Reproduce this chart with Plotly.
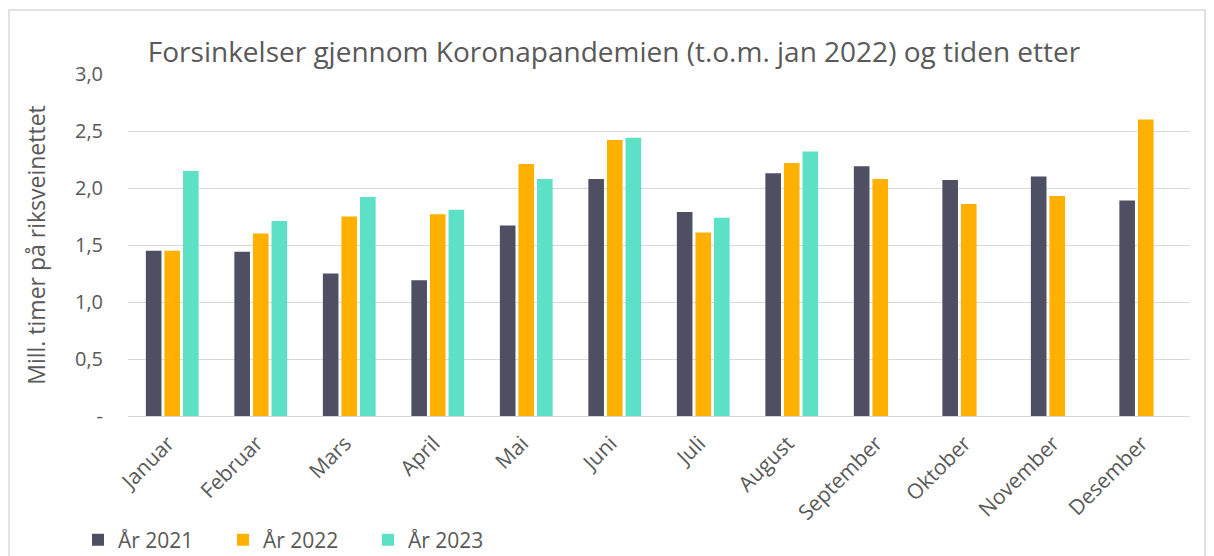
import plotly.graph_objects as go

months = ["Januar", "Februar", "Mars", "April", "Mai", "Juni", "Juli",
          "August", "September", "Oktober", "November", "Desember"]
y2021 = [1.45, 1.44, 1.25, 1.19, 1.67, 2.08, 1.79, 2.13, 2.19, 2.07, 2.10, 1.89]
y2022 = [1.45, 1.60, 1.75, 1.77, 2.21, 2.42, 1.61, 2.22, 2.08, 1.86, 1.93, 2.60]
y2023 = [2.15, 1.71, 1.92, 1.81, 2.08, 2.44, 1.74, 2.32, None, None, None, None]
tick_vals = [0, 0.5, 1.0, 1.5, 2.0, 2.5, 3.0]
tick_text = ["-", "0,5", "1,0", "1,5", "2,0", "2,5", "3,0"]

series = [("År 2021", y2021, "#4E4F63"),
          ("År 2022", y2022, "#FFB000"),
          ("År 2023", y2023, "#5CE1C6")]

fig = go.Figure()
for name, vals, col in series:
    fig.add_trace(go.Bar(x=months, y=vals, name=name, marker_color=col,
                         marker_line_width=0))

txt = "#595959"
W, H = 1206, 548          # page body has an 8px margin
OFF = 8
L, R, T, B = 120, 24, 66, 140
PW, PH = W - L - R, H - T - B
bottom = H - B

def px(X):
    return (X - OFF - L) / PW

def py(Y):
    return (bottom - (Y - OFF)) / PH

fig.update_layout(
    width=W, height=H,
    paper_bgcolor="white", plot_bgcolor="white",
    margin=dict(l=L, r=R, t=T, b=B, autoexpand=False),
    font=dict(family="Open Sans", color=txt, size=16),
    barmode="group", bargap=0.37, bargroupgap=0.16,
    title=dict(text="Forsinkelser gjennom Koronapandemien (t.o.m. jan 2022) og tiden etter",
               x=(614 - OFF) / W, xanchor="center", y=1 - (52 - OFF) / H, yanchor="middle",
               font=dict(size=28, color=txt)),
    legend=dict(orientation="h", x=px(78), y=py(540),
                xanchor="left", yanchor="middle",
                font=dict(size=21, color=txt), entrywidth=100, itemwidth=30,
                traceorder="normal"),
)
fig.update_yaxes(range=[0, 3.0], tickvals=tick_vals, ticktext=tick_text,
                 showgrid=True, gridcolor="#D9D9D9", gridwidth=1,
                 zeroline=True, zerolinecolor="#D9D9D9", zerolinewidth=1,
                 tickfont=dict(size=20, color=txt), ticks="", ticklabelstandoff=24,
                 automargin=False,
                 title=dict(text="Mill. timer på riksveinettet", font=dict(size=23, color=txt),
                            standoff=22))
fig.update_xaxes(tickangle=-45, tickfont=dict(size=21, color=txt), showline=False,
                 ticks="", automargin=False, ticklabelstandoff=10, ticklabelshift=-4)
fig.add_shape(type="rect", xref="paper", yref="paper",
              x0=px(9), x1=px(1205), y0=py(600), y1=py(10),
              line=dict(color="#D9D9D9", width=1.5), fillcolor="rgba(0,0,0,0)", layer="below")
fig.write_html("out.html")
